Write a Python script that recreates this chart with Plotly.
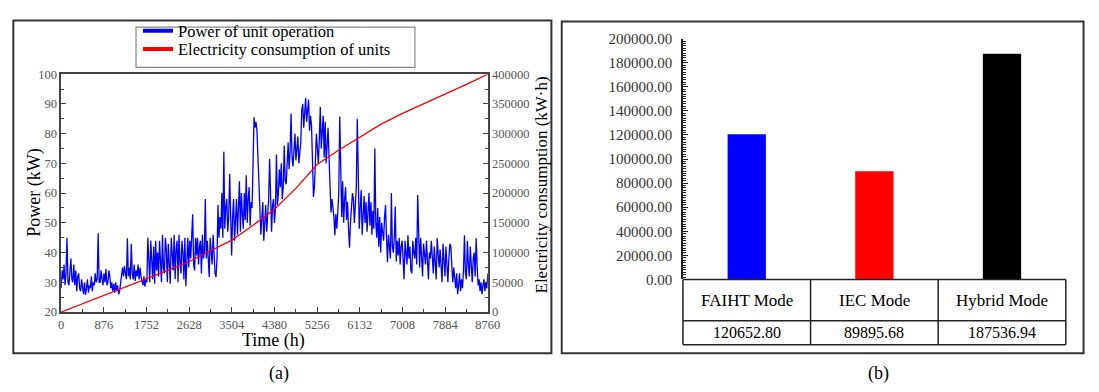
import plotly.graph_objects as go

# ---------------- data: panel (a) ----------------
hour_step = 20  # sampling interval of the hand-read power series (h)
power_kw = [
    28, 34, 31, 36, 29, 33, 45, 30, 29, 35, 38, 31, 30, 36, 29, 34, 27, 32, 33, 28,
    27, 31, 29, 26, 30, 25.8, 28, 31, 26.5, 29, 28, 32, 27, 30, 29, 33, 30, 31, 46.5, 30,
    30, 34, 31, 29, 33, 30, 34.5, 29, 30, 34, 32, 28, 30, 27, 29.5, 26.5, 30, 27, 29, 26,
    27, 30, 31, 35, 32, 35.5, 33, 31, 44.8, 32, 35, 31, 43, 33, 31, 36, 30.5, 34, 32, 36,
    31, 35, 32, 30, 29, 32, 28.5, 31, 30, 45, 33, 30, 44, 36, 31, 42, 29.5, 44, 34, 40,
    32, 44, 38, 30, 46, 35, 33, 45, 41, 30, 43, 36, 29.5, 45, 38, 34, 46, 31, 41, 44,
    30, 46, 37, 33, 44, 40, 31, 45, 28.7, 36, 45, 35, 44, 38, 46, 52.9, 36, 34, 45, 39,
    45, 36, 42, 44, 33, 46, 38, 40, 58, 38, 44, 35, 31.8, 45, 41, 36, 46, 39, 33, 31.8,
    38, 56, 45, 52, 48, 60, 45, 73.9, 48, 55, 58, 47, 52, 66.5, 50, 39, 52, 58, 44, 50,
    58, 46, 55, 64, 47, 60, 53, 48, 60, 51, 66, 50, 58, 62, 49, 57, 55, 78, 85.5, 82,
    84, 81, 70, 58, 55, 46, 52, 57, 44, 50, 56, 47, 54, 58, 71.5, 52, 47, 56, 58, 50,
    55, 73, 56, 60, 68, 62, 70, 58, 62, 76, 64, 63, 72, 77, 68, 74, 86.8, 72, 69, 76,
    80, 71, 75, 79, 70, 74, 77, 88, 90, 82, 86, 92, 84, 89, 91.5, 81, 86, 83, 70, 58.7,
    62, 72, 80, 75, 70, 78, 89, 75, 80, 86, 72, 84, 70, 78, 82, 72, 60, 53.5, 58, 55,
    52, 45.8, 53, 48, 55, 60, 85.8, 62, 52, 64, 50, 58, 62, 51, 57, 48, 41.6, 50, 55, 60,
    58, 50, 56, 62, 85, 60, 48, 55, 61, 46, 52, 59, 50, 57, 47, 54, 60, 49, 57, 46,
    54, 48, 75, 50, 45, 55, 42, 52, 40, 50, 47, 44, 52, 56, 45, 36.8, 46, 42, 38, 60,
    42, 40, 45, 55.5, 37, 44, 39, 45, 36, 42, 44, 38, 31, 44, 40, 36, 45.8, 38, 42, 34,
    33, 44, 40, 38, 45, 36, 59.4, 40, 35, 45, 38, 32, 43, 39, 36, 44, 34, 31, 40, 38,
    44, 36, 33, 42, 38, 31, 44.8, 40, 35, 41, 37, 30, 43, 39, 32, 42, 35, 30, 38, 43,
    42, 33, 30, 35, 31, 28, 33, 26, 29, 33, 27, 31, 28, 34, 45.8, 33, 31, 44, 36, 32,
    42, 35, 30, 38, 40, 32, 44.8, 36, 29, 31, 27, 30, 26, 29, 31, 27, 30, 28, 33,
]
power_hours = [i * hour_step for i in range(len(power_kw))]

energy_hours = [0, 438, 876, 1314, 1752, 2190, 2628, 3066, 3504, 3942, 4380,
                4818, 5256, 5694, 6132, 6570, 7008, 7446, 7884, 8322, 8760]
energy_kwh = [0, 14000, 28000, 41500, 55000, 70000, 85000, 103000, 121000, 146000, 173000,
              208000, 248000, 272000, 294000, 316000, 334000, 350000, 366000, 383000, 400000]

series_names = ["Power of unit operation", "Electricity consumption of units"]

# ---------------- data: panel (b) ----------------
modes = ["FAIHT Mode", "IEC Mode", "Hybrid Mode"]
mode_totals = [120652.80, 89895.68, 187536.94]
mode_colors = ["#0000FF", "#FF0000", "#000000"]

# ---------------- layout helpers ----------------
W, H = 1099, 392
def px(x):
    return x / W
def py(y):
    return 1 - y / H

SERIF = "Liberation Serif"
TICK_GRAY = "#555555"
AXIS_COL = "#444444"

fig = go.Figure()

fig.add_trace(go.Scatter(x=power_hours, y=power_kw, mode="lines",
                         line=dict(color="#0000FF", width=1.3),
                         xaxis="x", yaxis="y", showlegend=False, name=series_names[0]))
fig.add_trace(go.Scatter(x=energy_hours, y=energy_kwh, mode="lines",
                         line=dict(color="#FF0000", width=1.3),
                         xaxis="x", yaxis="y2", showlegend=False, name=series_names[1]))
# legend samples (thick lines as in the reference), one per legend row
fig.add_trace(go.Scatter(x=[None], y=[None], mode="lines", line=dict(color="#0000FF", width=4),
                         name=series_names[0], xaxis="x", yaxis="y", legend="legend"))
fig.add_trace(go.Scatter(x=[None], y=[None], mode="lines", line=dict(color="#FF0000", width=4),
                         name=series_names[1], xaxis="x", yaxis="y", legend="legend2"))

fig.add_trace(go.Bar(x=modes, y=mode_totals, marker=dict(color=mode_colors, line=dict(width=0)),
                     width=0.3, xaxis="x3", yaxis="y3", showlegend=False))

tickfont_a = dict(family=SERIF, size=12.5, color=TICK_GRAY)
legend_common = dict(xanchor="left", yanchor="middle", bgcolor="rgba(0,0,0,0)",
                     borderwidth=0, font=dict(family=SERIF, size=16.5, color="black"),
                     itemwidth=30)

fig.update_layout(
    width=W, height=H, autosize=False,
    margin=dict(l=0, r=0, t=0, b=0),
    paper_bgcolor="white", plot_bgcolor="white",
    font=dict(family=SERIF, color="black"),
    legend=dict(x=px(137), y=py(24), **legend_common),
    legend2=dict(x=px(137), y=py(43), **legend_common),
    xaxis=dict(domain=[px(59), px(492)], anchor="y", range=[0, 8760],
               tickmode="linear", tick0=0, dtick=876,
               ticks="inside", ticklen=5, tickcolor=AXIS_COL,
               minor=dict(dtick=438, ticks="inside", ticklen=3, tickcolor=AXIS_COL, showgrid=False),
               showline=True, linecolor=AXIS_COL, linewidth=1.5, mirror=True,
               showgrid=False, zeroline=False, tickfont=tickfont_a),
    yaxis=dict(domain=[py(317), py(69)], anchor="x", range=[20, 100],
               tickmode="linear", tick0=20, dtick=10,
               ticks="inside", ticklen=5, tickcolor=AXIS_COL,
               minor=dict(dtick=5, ticks="inside", ticklen=3, tickcolor=AXIS_COL, showgrid=False),
               showline=True, linecolor=AXIS_COL, linewidth=1.5,
               showgrid=False, zeroline=False, tickfont=tickfont_a),
    yaxis2=dict(overlaying="y", side="right", anchor="x", range=[0, 400000],
                tickmode="linear", tick0=0, dtick=50000, tickformat="d",
                ticks="inside", ticklen=5, tickcolor=AXIS_COL,
                minor=dict(dtick=25000, ticks="inside", ticklen=3, tickcolor=AXIS_COL, showgrid=False),
                showline=True, linecolor=AXIS_COL, linewidth=1.5,
                showgrid=False, zeroline=False, tickfont=tickfont_a),
    xaxis3=dict(domain=[px(690), px(1078.5)], anchor="y3", range=[-0.5, 2.5],
                showticklabels=False, ticks="", showline=False, showgrid=False, zeroline=False),
    yaxis3=dict(domain=[py(283), py(32)], anchor="x3", range=[0, 200000],
                tickmode="linear", tick0=0, dtick=20000, tickformat=".2f",
                ticks="inside", ticklen=5, tickcolor="#222222",
                minor=dict(dtick=2000, ticks="inside", ticklen=3, tickcolor="#222222", showgrid=False),
                showline=True, linecolor="#222222", linewidth=1.5,
                showgrid=False, zeroline=False, ticklabelstandoff=6,
                tickfont=dict(family=SERIF, size=15, color="#333333")),
)

shapes = []
# panel frames
shapes.append(dict(type="rect", xref="paper", yref="paper",
                   x0=px(10.5), x1=px(556.5), y0=py(360), y1=py(13),
                   line=dict(color="#333333", width=2)))
shapes.append(dict(type="rect", xref="paper", yref="paper",
                   x0=px(567), x1=px(1096.5), y0=py(360), y1=py(14),
                   line=dict(color="#333333", width=2)))
# legend box
shapes.append(dict(type="rect", xref="paper", yref="paper",
                   x0=px(135), x1=px(418), y0=py(62), y1=py(20),
                   line=dict(color="#888888", width=1.2), fillcolor="rgba(0,0,0,0)"))
# data table under the bars
tbl_x0, tbl_x1 = 690, 1078.5
tbl_rows = [283, 326, 351]
for yy in tbl_rows:
    shapes.append(dict(type="line", xref="paper", yref="paper",
                       x0=px(tbl_x0), x1=px(tbl_x1), y0=py(yy), y1=py(yy),
                       line=dict(color="#222222", width=1.5)))
for k in range(len(modes) + 1):
    xx = tbl_x0 + k * (tbl_x1 - tbl_x0) / len(modes)
    shapes.append(dict(type="line", xref="paper", yref="paper",
                       x0=px(xx), x1=px(xx), y0=py(tbl_rows[0]), y1=py(tbl_rows[-1]),
                       line=dict(color="#222222", width=1.5)))
fig.update_layout(shapes=shapes)

annotations = []
for m, v in zip(modes, mode_totals):
    annotations.append(dict(x=m, xref="x3", y=py((tbl_rows[0] + tbl_rows[1]) / 2), yref="paper",
                            text=m, showarrow=False, xanchor="center", yanchor="middle",
                            font=dict(family=SERIF, size=17, color="black")))
    annotations.append(dict(x=m, xref="x3", y=py((tbl_rows[1] + tbl_rows[2]) / 2), yref="paper",
                            text=f"{v:.2f}", showarrow=False, xanchor="center", yanchor="middle",
                            font=dict(family=SERIF, size=16, color="black")))
# axis titles panel (a)
annotations.append(dict(x=px(275), y=py(347), xref="paper", yref="paper", text="Time (h)",
                        showarrow=False, xanchor="center", yanchor="middle",
                        font=dict(family=SERIF, size=18, color="black")))
annotations.append(dict(x=px(32), y=py(193), xref="paper", yref="paper", text="Power (kW)",
                        showarrow=False, textangle=-90, xanchor="center", yanchor="middle",
                        font=dict(family=SERIF, size=18, color="black")))
annotations.append(dict(x=px(546), y=py(185), xref="paper", yref="paper",
                        text="Electricity consumption (kW·h)",
                        showarrow=False, textangle=-90, xanchor="center", yanchor="middle",
                        font=dict(family=SERIF, size=17, color="black")))
# panel labels
annotations.append(dict(x=px(280), y=py(381), xref="paper", yref="paper", text="(a)",
                        showarrow=False, xanchor="center", yanchor="middle",
                        font=dict(family=SERIF, size=18, color="black")))
annotations.append(dict(x=px(888), y=py(381), xref="paper", yref="paper", text="(b)",
                        showarrow=False, xanchor="center", yanchor="middle",
                        font=dict(family=SERIF, size=18, color="black")))
fig.update_layout(annotations=annotations)

fig.write_html("out.html")
